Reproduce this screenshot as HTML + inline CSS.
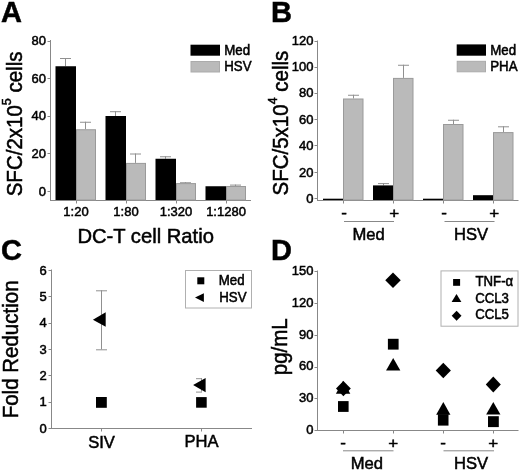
<!DOCTYPE html>
<html><head><meta charset="utf-8"><style>
html,body{margin:0;padding:0;background:#fff;overflow:hidden;width:520px;height:472px;}
svg{display:block;}
text{font-family:"Liberation Sans",sans-serif;fill:#000;stroke:#000;stroke-width:0.5px;}
svg{will-change:transform;}
</style></head><body>
<svg width="520" height="472" viewBox="0 0 520 472">
<rect width="520" height="472" fill="#fff"/>
<text transform="translate(1.0,22.1) scale(1,1.0)" font-size="29" text-anchor="start" font-weight="bold">A</text>
<line x1="50.5" y1="40" x2="50.5" y2="200.5" stroke="#888888" stroke-width="1"/>
<line x1="50" y1="200.5" x2="251" y2="200.5" stroke="#888888" stroke-width="1"/>
<line x1="47.5" y1="191.5" x2="50.5" y2="191.5" stroke="#888888" stroke-width="1"/>
<text transform="translate(45.9,195.7) scale(1,1.04)" font-size="13" text-anchor="end">0</text>
<line x1="47.5" y1="153.5" x2="50.5" y2="153.5" stroke="#888888" stroke-width="1"/>
<text transform="translate(45.9,158.07) scale(1,1.04)" font-size="13" text-anchor="end">20</text>
<line x1="47.5" y1="116.5" x2="50.5" y2="116.5" stroke="#888888" stroke-width="1"/>
<text transform="translate(45.9,120.45) scale(1,1.04)" font-size="13" text-anchor="end">40</text>
<line x1="47.5" y1="78.5" x2="50.5" y2="78.5" stroke="#888888" stroke-width="1"/>
<text transform="translate(45.9,82.82) scale(1,1.04)" font-size="13" text-anchor="end">60</text>
<line x1="47.5" y1="41.5" x2="50.5" y2="41.5" stroke="#888888" stroke-width="1"/>
<text transform="translate(45.9,45.2) scale(1,1.04)" font-size="13" text-anchor="end">80</text>
<line x1="76.5" y1="200.5" x2="76.5" y2="203.5" stroke="#888888" stroke-width="1"/>
<line x1="126.5" y1="200.5" x2="126.5" y2="203.5" stroke="#888888" stroke-width="1"/>
<line x1="176.5" y1="200.5" x2="176.5" y2="203.5" stroke="#888888" stroke-width="1"/>
<line x1="226.5" y1="200.5" x2="226.5" y2="203.5" stroke="#888888" stroke-width="1"/>
<line x1="65.5" y1="58" x2="65.5" y2="66.25" stroke="#909090" stroke-width="1"/>
<line x1="60.0" y1="58.5" x2="71.0" y2="58.5" stroke="#909090" stroke-width="1"/>
<line x1="85.5" y1="121.75" x2="85.5" y2="129.25" stroke="#909090" stroke-width="1"/>
<line x1="80.0" y1="122.25" x2="91.0" y2="122.25" stroke="#909090" stroke-width="1"/>
<rect x="55.5" y="66.25" width="20.5" height="133.75" fill="#000"/>
<rect x="76.5" y="129.75" width="19" height="70.25" fill="#bababa" stroke="#9a9a9a" stroke-width="1"/>
<line x1="115.5" y1="111.2" x2="115.5" y2="116" stroke="#909090" stroke-width="1"/>
<line x1="110.0" y1="111.7" x2="121.0" y2="111.7" stroke="#909090" stroke-width="1"/>
<line x1="135.5" y1="153.5" x2="135.5" y2="162.9" stroke="#909090" stroke-width="1"/>
<line x1="130.0" y1="154.0" x2="141.0" y2="154.0" stroke="#909090" stroke-width="1"/>
<rect x="105.5" y="116" width="20.5" height="84" fill="#000"/>
<rect x="126.5" y="163.4" width="19" height="36.6" fill="#bababa" stroke="#9a9a9a" stroke-width="1"/>
<line x1="165.5" y1="156.25" x2="165.5" y2="158.75" stroke="#909090" stroke-width="1"/>
<line x1="160.0" y1="156.75" x2="171.0" y2="156.75" stroke="#909090" stroke-width="1"/>
<line x1="185.5" y1="182.25" x2="185.5" y2="183.1" stroke="#909090" stroke-width="1"/>
<line x1="180.0" y1="182.75" x2="191.0" y2="182.75" stroke="#909090" stroke-width="1"/>
<rect x="155.5" y="158.75" width="20.5" height="41.25" fill="#000"/>
<rect x="176.5" y="183.6" width="19" height="16.4" fill="#bababa" stroke="#9a9a9a" stroke-width="1"/>
<line x1="235.5" y1="184.6" x2="235.5" y2="186.0" stroke="#909090" stroke-width="1"/>
<line x1="230.0" y1="185.1" x2="241.0" y2="185.1" stroke="#909090" stroke-width="1"/>
<rect x="205.5" y="186.25" width="20.5" height="13.75" fill="#000"/>
<rect x="226.5" y="186.5" width="19" height="13.5" fill="#bababa" stroke="#9a9a9a" stroke-width="1"/>
<text transform="translate(76,216.3) scale(1,1.04)" font-size="13" text-anchor="middle">1:20</text>
<text transform="translate(126,216.3) scale(1,1.04)" font-size="13" text-anchor="middle">1:80</text>
<text transform="translate(176,216.3) scale(1,1.04)" font-size="13" text-anchor="middle">1:320</text>
<text transform="translate(226,216.3) scale(1,1.04)" font-size="13" text-anchor="middle">1:1280</text>
<text transform="translate(77.4,242.8) scale(1,1.04)" font-size="20.2" text-anchor="start">DC-T cell Ratio</text>
<rect x="190.5" y="44.7" width="29.5" height="11" fill="#000"/>
<rect x="191" y="61.5" width="28.5" height="10.5" fill="#bababa" stroke="#ababab" stroke-width="1"/>
<text transform="translate(224.2,54.8) scale(1,1.04)" font-size="13.3" text-anchor="start">Med</text>
<text transform="translate(224.2,71.3) scale(1,1.04)" font-size="13.3" text-anchor="start">HSV</text>
<text transform="translate(21.7,196.3) rotate(-90) scale(1,1.04)" font-size="20.5">SFC/2x10<tspan font-size="12.5" dy="-10.5">5</tspan><tspan dy="10.5"> cells</tspan></text>
<text transform="translate(270.9,21.5) scale(1,1.0)" font-size="29" text-anchor="start" font-weight="bold">B</text>
<line x1="317.5" y1="40.5" x2="317.5" y2="200.5" stroke="#888888" stroke-width="1"/>
<line x1="317" y1="200.5" x2="518.5" y2="200.5" stroke="#888888" stroke-width="1"/>
<line x1="314.5" y1="198.5" x2="317.5" y2="198.5" stroke="#888888" stroke-width="1"/>
<text transform="translate(313.5,202.9) scale(1,1.04)" font-size="13" text-anchor="end">0</text>
<line x1="314.5" y1="172.5" x2="317.5" y2="172.5" stroke="#888888" stroke-width="1"/>
<text transform="translate(313.5,177.1) scale(1,1.04)" font-size="13" text-anchor="end">20</text>
<line x1="314.5" y1="145.5" x2="317.5" y2="145.5" stroke="#888888" stroke-width="1"/>
<text transform="translate(313.5,149.9) scale(1,1.04)" font-size="13" text-anchor="end">40</text>
<line x1="314.5" y1="119.5" x2="317.5" y2="119.5" stroke="#888888" stroke-width="1"/>
<text transform="translate(313.5,123.8) scale(1,1.04)" font-size="13" text-anchor="end">60</text>
<line x1="314.5" y1="93.5" x2="317.5" y2="93.5" stroke="#888888" stroke-width="1"/>
<text transform="translate(313.5,97.4) scale(1,1.04)" font-size="13" text-anchor="end">80</text>
<line x1="314.5" y1="67.5" x2="317.5" y2="67.5" stroke="#888888" stroke-width="1"/>
<text transform="translate(313.5,71.2) scale(1,1.04)" font-size="13" text-anchor="end">100</text>
<line x1="314.5" y1="41.5" x2="317.5" y2="41.5" stroke="#888888" stroke-width="1"/>
<text transform="translate(313.5,45.2) scale(1,1.04)" font-size="13" text-anchor="end">120</text>
<line x1="343.5" y1="200.5" x2="343.5" y2="203.5" stroke="#888888" stroke-width="1"/>
<line x1="393.5" y1="200.5" x2="393.5" y2="203.5" stroke="#888888" stroke-width="1"/>
<line x1="443.5" y1="200.5" x2="443.5" y2="203.5" stroke="#888888" stroke-width="1"/>
<line x1="493.5" y1="200.5" x2="493.5" y2="203.5" stroke="#888888" stroke-width="1"/>
<line x1="353.5" y1="94.75" x2="353.5" y2="98.5" stroke="#909090" stroke-width="1"/>
<line x1="348" y1="95.25" x2="359" y2="95.25" stroke="#909090" stroke-width="1"/>
<rect x="323" y="198.7" width="20" height="1.3" fill="#000"/>
<rect x="343.5" y="99.0" width="19.5" height="101.0" fill="#bababa" stroke="#9a9a9a" stroke-width="1"/>
<line x1="383.5" y1="183.1" x2="383.5" y2="185.4" stroke="#909090" stroke-width="1"/>
<line x1="378" y1="183.6" x2="389" y2="183.6" stroke="#909090" stroke-width="1"/>
<line x1="403.5" y1="64.75" x2="403.5" y2="77.9" stroke="#909090" stroke-width="1"/>
<line x1="398" y1="65.25" x2="409" y2="65.25" stroke="#909090" stroke-width="1"/>
<rect x="373" y="185.4" width="20" height="14.6" fill="#000"/>
<rect x="393.5" y="78.4" width="19.5" height="121.6" fill="#bababa" stroke="#9a9a9a" stroke-width="1"/>
<line x1="453.5" y1="119.75" x2="453.5" y2="124" stroke="#909090" stroke-width="1"/>
<line x1="448" y1="120.25" x2="459" y2="120.25" stroke="#909090" stroke-width="1"/>
<rect x="423" y="198.7" width="20" height="1.3" fill="#000"/>
<rect x="443.5" y="124.5" width="19.5" height="75.5" fill="#bababa" stroke="#9a9a9a" stroke-width="1"/>
<line x1="503.5" y1="126.3" x2="503.5" y2="132.1" stroke="#909090" stroke-width="1"/>
<line x1="498" y1="126.8" x2="509" y2="126.8" stroke="#909090" stroke-width="1"/>
<rect x="473" y="195.2" width="20" height="4.8" fill="#000"/>
<rect x="493.5" y="132.6" width="19.5" height="67.4" fill="#bababa" stroke="#9a9a9a" stroke-width="1"/>
<text transform="translate(344.2,218.0) scale(1,0.85)" font-size="17" text-anchor="middle">-</text>
<text transform="translate(394.2,218.0) scale(1,0.85)" font-size="17" text-anchor="middle">+</text>
<text transform="translate(444.2,218.0) scale(1,0.85)" font-size="17" text-anchor="middle">-</text>
<text transform="translate(494.2,218.0) scale(1,0.85)" font-size="17" text-anchor="middle">+</text>
<line x1="344" y1="221.5" x2="394" y2="221.5" stroke="#888888" stroke-width="1"/>
<line x1="444.5" y1="221.5" x2="494.5" y2="221.5" stroke="#888888" stroke-width="1"/>
<text transform="translate(368.6,239.6) scale(1,1.04)" font-size="16.6" text-anchor="middle">Med</text>
<text transform="translate(471.0,239.8) scale(1,1.04)" font-size="16.6" text-anchor="middle">HSV</text>
<rect x="456.7" y="44.4" width="29.3" height="11.3" fill="#000"/>
<rect x="457.2" y="61.3" width="28.3" height="10.5" fill="#bababa" stroke="#ababab" stroke-width="1"/>
<text transform="translate(490.2,54.6) scale(1,1.04)" font-size="13.3" text-anchor="start">Med</text>
<text transform="translate(490.2,71.0) scale(1,1.04)" font-size="13.3" text-anchor="start">PHA</text>
<text transform="translate(288,195.5) rotate(-90) scale(1,1.04)" font-size="20.5">SFC/5x10<tspan font-size="12.5" dy="-10.5">4</tspan><tspan dy="10.5"> cells</tspan></text>
<text transform="translate(0.9,260.0) scale(1,1.0)" font-size="29" text-anchor="start" font-weight="bold">C</text>
<line x1="51.5" y1="269.5" x2="51.5" y2="428.5" stroke="#888888" stroke-width="1"/>
<line x1="51" y1="428.5" x2="252" y2="428.5" stroke="#888888" stroke-width="1"/>
<line x1="48.5" y1="428.5" x2="51.5" y2="428.5" stroke="#888888" stroke-width="1"/>
<text transform="translate(46.8,432.7) scale(1,1.04)" font-size="13" text-anchor="end">0</text>
<line x1="48.5" y1="402.5" x2="51.5" y2="402.5" stroke="#888888" stroke-width="1"/>
<text transform="translate(46.8,406.35) scale(1,1.04)" font-size="13" text-anchor="end">1</text>
<line x1="48.5" y1="375.5" x2="51.5" y2="375.5" stroke="#888888" stroke-width="1"/>
<text transform="translate(46.8,380) scale(1,1.04)" font-size="13" text-anchor="end">2</text>
<line x1="48.5" y1="349.5" x2="51.5" y2="349.5" stroke="#888888" stroke-width="1"/>
<text transform="translate(46.8,353.65) scale(1,1.04)" font-size="13" text-anchor="end">3</text>
<line x1="48.5" y1="323.5" x2="51.5" y2="323.5" stroke="#888888" stroke-width="1"/>
<text transform="translate(46.8,327.3) scale(1,1.04)" font-size="13" text-anchor="end">4</text>
<line x1="48.5" y1="296.5" x2="51.5" y2="296.5" stroke="#888888" stroke-width="1"/>
<text transform="translate(46.8,300.95) scale(1,1.04)" font-size="13" text-anchor="end">5</text>
<line x1="48.5" y1="270.5" x2="51.5" y2="270.5" stroke="#888888" stroke-width="1"/>
<text transform="translate(46.8,274.6) scale(1,1.04)" font-size="13" text-anchor="end">6</text>
<line x1="101.5" y1="428.5" x2="101.5" y2="431.5" stroke="#888888" stroke-width="1"/>
<line x1="201.5" y1="428.5" x2="201.5" y2="431.5" stroke="#888888" stroke-width="1"/>
<line x1="101.5" y1="290.3" x2="101.5" y2="349.3" stroke="#909090" stroke-width="1"/>
<line x1="96" y1="290.8" x2="107" y2="290.8" stroke="#909090" stroke-width="1"/>
<line x1="96" y1="349.8" x2="107" y2="349.8" stroke="#909090" stroke-width="1"/>
<polygon points="92.9,319.7 105.7,312.3 105.7,326.8" fill="#000"/>
<rect x="96" y="397" width="10.8" height="10.8" fill="#000"/>
<line x1="201.5" y1="378.2" x2="201.5" y2="391.6" stroke="#909090" stroke-width="1"/>
<line x1="196" y1="378.7" x2="202" y2="378.7" stroke="#909090" stroke-width="1"/>
<line x1="196" y1="392.1" x2="202" y2="392.1" stroke="#909090" stroke-width="1"/>
<polygon points="193.1,385.1 205.6,378 205.6,392.2" fill="#000"/>
<rect x="196.1" y="397.1" width="10.6" height="10.6" fill="#000"/>
<text transform="translate(101.5,447.6) scale(1,1.04)" font-size="16.6" text-anchor="middle">SIV</text>
<text transform="translate(201.5,447.1) scale(1,1.04)" font-size="16.6" text-anchor="middle">PHA</text>
<rect x="185.5" y="270.5" width="66" height="37.5" fill="#fff" stroke="#b0b0b0" stroke-width="1"/>
<rect x="197.3" y="277.3" width="7" height="7" fill="#000"/>
<polygon points="195,297.6 203.9,293.3 203.9,301.9" fill="#000"/>
<text transform="translate(218.7,285.3) scale(1,1.04)" font-size="13.3" text-anchor="start">Med</text>
<text transform="translate(219.2,301.9) scale(1,1.04)" font-size="13.3" text-anchor="start">HSV</text>
<text transform="translate(18.4,418.3) rotate(-90) scale(1,1.04)" font-size="20.5">Fold Reduction</text>
<text transform="translate(271.0,260.0) scale(1,1.0)" font-size="29" text-anchor="start" font-weight="bold">D</text>
<line x1="317.5" y1="270.5" x2="317.5" y2="430.5" stroke="#888888" stroke-width="1"/>
<line x1="317" y1="430.5" x2="518.5" y2="430.5" stroke="#888888" stroke-width="1"/>
<line x1="314.5" y1="430.5" x2="317.5" y2="430.5" stroke="#888888" stroke-width="1"/>
<text transform="translate(313.5,433.9) scale(1,1.04)" font-size="13" text-anchor="end">0</text>
<line x1="314.5" y1="398.5" x2="317.5" y2="398.5" stroke="#888888" stroke-width="1"/>
<text transform="translate(313.5,402.15) scale(1,1.04)" font-size="13" text-anchor="end">30</text>
<line x1="314.5" y1="367.5" x2="317.5" y2="367.5" stroke="#888888" stroke-width="1"/>
<text transform="translate(313.5,370.4) scale(1,1.04)" font-size="13" text-anchor="end">60</text>
<line x1="314.5" y1="335.5" x2="317.5" y2="335.5" stroke="#888888" stroke-width="1"/>
<text transform="translate(313.5,338.65) scale(1,1.04)" font-size="13" text-anchor="end">90</text>
<line x1="314.5" y1="303.5" x2="317.5" y2="303.5" stroke="#888888" stroke-width="1"/>
<text transform="translate(313.5,306.9) scale(1,1.04)" font-size="13" text-anchor="end">120</text>
<line x1="314.5" y1="271.5" x2="317.5" y2="271.5" stroke="#888888" stroke-width="1"/>
<text transform="translate(313.5,275.15) scale(1,1.04)" font-size="13" text-anchor="end">150</text>
<line x1="343.5" y1="430.5" x2="343.5" y2="433.5" stroke="#888888" stroke-width="1"/>
<line x1="393.5" y1="430.5" x2="393.5" y2="433.5" stroke="#888888" stroke-width="1"/>
<line x1="443.5" y1="430.5" x2="443.5" y2="433.5" stroke="#888888" stroke-width="1"/>
<line x1="493.5" y1="430.5" x2="493.5" y2="433.5" stroke="#888888" stroke-width="1"/>
<polygon points="343.1,380.8 350.3,393.8 335.9,393.8" fill="#000"/>
<polygon points="343.4,381.0 350.8,388.6 343.4,396.2 336.0,388.6" fill="#000"/>
<rect x="338" y="401.1" width="10.6" height="10.8" fill="#000"/>
<polygon points="393.0,272.55 400.75,280.3 393.0,288.05 385.25,280.3" fill="#000"/>
<rect x="387.9" y="338.8" width="10.7" height="10.8" fill="#000"/>
<polygon points="393.2,358 400.35,370.6 386.05,370.6" fill="#000"/>
<polygon points="443.3,362.75 450.9,370.5 443.3,378.25 435.7,370.5" fill="#000"/>
<polygon points="443.3,401.9 450.45,414.7 436.15,414.7" fill="#000"/>
<rect x="437.9" y="414.2" width="10.6" height="11.4" fill="#000"/>
<polygon points="493.3,376.6 500.8,384.5 493.3,392.4 485.8,384.5" fill="#000"/>
<polygon points="493.3,401.9 500.45,414.5 486.15,414.5" fill="#000"/>
<rect x="488" y="416.2" width="10.8" height="10.9" fill="#000"/>
<text transform="translate(343.2,448.2) scale(1,0.85)" font-size="17" text-anchor="middle">-</text>
<text transform="translate(393.2,448.2) scale(1,0.85)" font-size="17" text-anchor="middle">+</text>
<text transform="translate(443.2,448.2) scale(1,0.85)" font-size="17" text-anchor="middle">-</text>
<text transform="translate(493.2,448.2) scale(1,0.85)" font-size="17" text-anchor="middle">+</text>
<line x1="343" y1="450.8" x2="393.5" y2="450.8" stroke="#888888" stroke-width="1"/>
<line x1="443.5" y1="450.8" x2="494" y2="450.8" stroke="#888888" stroke-width="1"/>
<text transform="translate(366.8,469.4) scale(1,1.04)" font-size="16.6" text-anchor="middle">Med</text>
<text transform="translate(471.0,469.4) scale(1,1.04)" font-size="16.6" text-anchor="middle">HSV</text>
<rect x="441" y="270.9" width="77" height="55.3" fill="#fff" stroke="#b0b0b0" stroke-width="1"/>
<rect x="453.1" y="279" width="7" height="6.8" fill="#000"/>
<polygon points="456.5,294 461.4,302 451.6,302" fill="#000"/>
<polygon points="456.6,310.8 461.5,315.8 456.6,320.8 451.7,315.8" fill="#000"/>
<text transform="translate(475.5,286.3) scale(1,1.04)" font-size="13.2" text-anchor="start">TNF-α</text>
<text transform="translate(475.2,302.6) scale(1,1.04)" font-size="13.2" text-anchor="start">CCL3</text>
<text transform="translate(475.2,319.0) scale(1,1.04)" font-size="13.2" text-anchor="start">CCL5</text>
<text transform="translate(287,375.2) rotate(-90) scale(1,1.04)" font-size="20.5">pg/mL</text>
</svg>
</body></html>
